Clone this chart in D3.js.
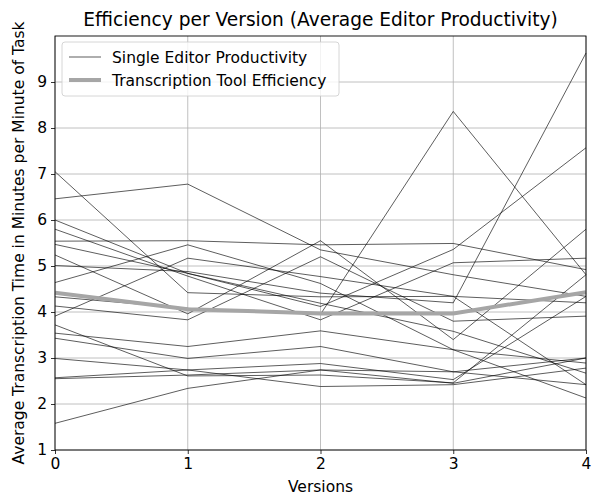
<!DOCTYPE html>
<html>
<head>
<meta charset="utf-8">
<script src="https://cdn.jsdelivr.net/npm/d3@7"></script>
<style>
  html, body { margin: 0; padding: 0; background: #fff; }
  svg { display: block; font-family: "DejaVu Sans", sans-serif; }
</style>
</head>
<body>
<svg id="chart" width="604" height="496"></svg>
<script>
// ---- data ----
const versions = [0, 1, 2, 3, 4];
const xTickLabels = ["0", "1", "2", "3", "4"];
const yTickValues = [1, 2, 3, 4, 5, 6, 7, 8, 9];

// productivity of each single editor per version
const editorA = [7.05, 4.42, 4.33, 4.34, 4.20];
const editorB = [6.46, 6.78, 5.35, 4.81, 4.34];
const editorC = [6.00, 4.84, 4.12, 5.36, 7.57];
const editorD = [5.80, 4.78, 3.83, 5.07, 5.17];
const editorE = [5.54, 5.55, 5.46, 5.49, 4.92];
const editorF = [5.47, 4.84, 4.19, 3.58, 2.67];
const editorG = [5.24, 3.96, 5.55, 3.40, 5.80];
const editorH = [5.01, 4.88, 4.41, 4.20, 9.63];
const editorI = [4.64, 5.46, 4.62, 3.18, 2.13];
const editorJ = [4.33, 4.08, 3.95, 8.36, 4.81];
const editorK = [4.13, 3.83, 5.20, 3.80, 3.91];
const editorL = [3.91, 5.17, 4.77, 4.34, 2.42];
const editorM = [3.72, 2.61, 2.63, 2.46, 4.81];
const editorN = [3.54, 3.25, 3.59, 3.18, 2.89];
const editorO = [3.43, 2.99, 3.25, 2.70, 3.00];
const editorP = [2.99, 2.74, 2.88, 2.53, 4.34];
const editorQ = [2.57, 2.74, 2.38, 2.42, 2.78];
const editorR = [2.55, 2.63, 2.74, 2.45, 3.00];
const editorS = [1.58, 2.34, 2.74, 2.70, 2.42];
const editors = [editorA, editorB, editorC, editorD, editorE, editorF, editorG, editorH, editorI, editorJ,
                 editorK, editorL, editorM, editorN, editorO, editorP, editorQ, editorR, editorS];

// average (tool efficiency)
const toolEfficiency = [4.42, 4.06, 3.97, 3.97, 4.43];

const legendLabels = ["Single Editor Productivity", "Transcription Tool Efficiency"];
const titleText = "Efficiency per Version (Average Editor Productivity)";
const xLabel = "Versions";
const yLabel = "Average Transcription Time in Minutes per Minute of Task";

// ---- layout ----
const svg = d3.select("#chart");
const m = { left: 55, right: 586, top: 36, bottom: 450 };
const fs = 15.5;

const x = d3.scaleLinear().domain([0, 4]).range([m.left, m.right]);
const y = d3.scaleLinear().domain([1, 10.0]).range([m.bottom, m.top]);

// grid
const grid = svg.append("g");
grid.selectAll("line.gx").data(versions).enter().append("line")
  .attr("x1", d => x(d)).attr("x2", d => x(d))
  .attr("y1", m.top).attr("y2", m.bottom)
  .attr("stroke", "#b0b0b0").attr("stroke-width", 0.8);
grid.selectAll("line.gy").data(yTickValues).enter().append("line")
  .attr("y1", d => y(d)).attr("y2", d => y(d))
  .attr("x1", m.left).attr("x2", m.right)
  .attr("stroke", "#b0b0b0").attr("stroke-width", 0.8);

// lines
const line = d3.line().x((d, i) => x(versions[i])).y(d => y(d));
svg.append("g").selectAll("path").data(editors).enter().append("path")
  .attr("d", line)
  .attr("fill", "none").attr("stroke", "#000").attr("stroke-opacity", 0.8)
  .attr("stroke-width", 0.8);

svg.append("path").datum(toolEfficiency)
  .attr("d", line)
  .attr("fill", "none").attr("stroke", "#a6a6a6")
  .attr("stroke-width", 4);

// axes
const xAxis = d3.axisBottom(x).tickValues(versions).tickFormat((d, i) => xTickLabels[i])
  .tickSizeInner(4).tickSizeOuter(0).tickPadding(4);
const yAxis = d3.axisLeft(y).tickValues(yTickValues).tickFormat(d3.format("d"))
  .tickSizeInner(4).tickSizeOuter(0).tickPadding(4);

const gx = svg.append("g").attr("transform", `translate(0,${m.bottom})`).call(xAxis);
const gy = svg.append("g").attr("transform", `translate(${m.left},0)`).call(yAxis);
[gx, gy].forEach(g => {
  g.select(".domain").remove();
  g.selectAll(".tick line").attr("stroke", "#000").attr("stroke-width", 0.8);
  g.selectAll(".tick text").attr("font-size", fs).attr("fill", "#000")
    .attr("font-family", "DejaVu Sans, sans-serif");
});

// frame
svg.append("rect")
  .attr("x", m.left).attr("y", m.top)
  .attr("width", m.right - m.left).attr("height", m.bottom - m.top)
  .attr("fill", "none").attr("stroke", "#000").attr("stroke-width", 0.9);

// title and labels
svg.append("text").attr("x", (m.left + m.right) / 2).attr("y", 26)
  .attr("text-anchor", "middle").attr("font-size", 18.6).text(titleText);
svg.append("text").attr("x", (m.left + m.right) / 2).attr("y", 492)
  .attr("text-anchor", "middle").attr("font-size", fs).text(xLabel);
svg.append("text")
  .attr("transform", `translate(24,${(m.top + m.bottom) / 2}) rotate(-90)`)
  .attr("text-anchor", "middle").attr("font-size", fs).text(yLabel);

// legend
const lg = svg.append("g");
lg.append("rect").attr("x", 62).attr("y", 42).attr("width", 277).attr("height", 54)
  .attr("rx", 3).attr("fill", "#fff").attr("fill-opacity", 0.8)
  .attr("stroke", "#cccccc").attr("stroke-width", 0.8);
const legendStyles = [{ c: "#000", w: 0.8, o: 0.8 }, { c: "#a6a6a6", w: 4, o: 1 }];
legendLabels.forEach((lab, i) => {
  const yy = 57 + i * 23;
  lg.append("line").attr("x1", 69).attr("x2", 101).attr("y1", yy).attr("y2", yy)
    .attr("stroke", legendStyles[i].c).attr("stroke-width", legendStyles[i].w)
    .attr("stroke-opacity", legendStyles[i].o);
  lg.append("text").attr("x", 112).attr("y", yy + 5.5).attr("font-size", fs).text(lab);
});
</script>
</body>
</html>
